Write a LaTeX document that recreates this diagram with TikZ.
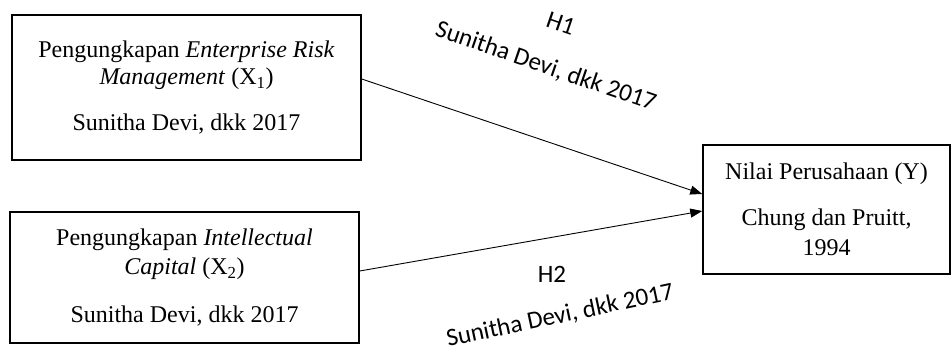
\documentclass[tikz,border=0pt]{standalone}
\usepackage{fontspec}
\setmainfont{Liberation Serif}
\newfontfamily\lblfont{Carlito}
\usetikzlibrary{arrows.meta}
\begin{document}
\begin{tikzpicture}[x=1pt,y=-1pt,
  box/.style={draw, line width=1.5pt, inner sep=0pt, align=center},
  conn/.style={line width=0.9pt, -{Triangle[length=12pt,width=9pt]}},
  lbl/.style={font=\lblfont\fontsize{25}{45}\selectfont, align=center, inner sep=0pt}]
\useasboundingbox (0,0) rectangle (951,351);
\node[box, minimum width=349pt, minimum height=145pt, font=\fontsize{24}{27}\selectfont] (b1) at (186.5,87.5)
  {Pengungkapan \textit{Enterprise Risk}\\ \textit{Management} (X\textsubscript{1})\\[19pt] Sunitha Devi, dkk 2017};
\node[box, minimum width=349pt, minimum height=131pt, font=\fontsize{24}{29}\selectfont] (b2) at (184.5,277.5)
  {Pengungkapan \textit{Intellectual}\\ \textit{Capital} (X\textsubscript{2})\\[19pt] Sunitha Devi, dkk 2017};
\node[box, minimum width=247pt, minimum height=129pt, font=\fontsize{24}{30}\selectfont] (b3) at (826.5,209.5)
  {Nilai Perusahaan (Y)\\[16pt] Chung dan Pruitt,\\ 1994};
\draw[conn] ([yshift=8.5pt]b1.east) -- ([yshift=15.5pt]b3.west);
\draw[conn] ([yshift=6.5pt]b2.east) -- ([yshift=-1.5pt]b3.west);
\node[lbl, rotate=-19] (l1) at (553,46) {H1\\ Sunitha Devi, dkk 2017};
\node[lbl] (h2) at (552,274) {H2};
\node[lbl, rotate=12] (l2) at (560,316) {Sunitha Devi, dkk 2017};
\end{tikzpicture}
\end{document}
